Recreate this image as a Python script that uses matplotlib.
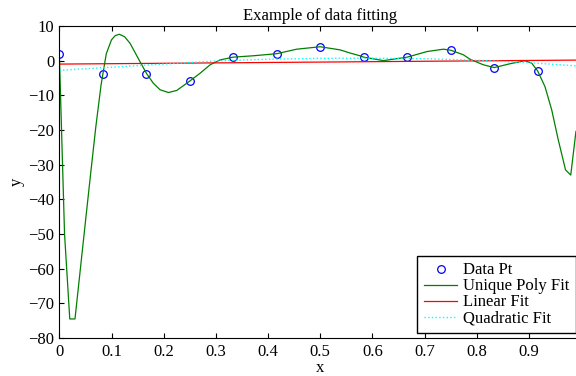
import matplotlib.pyplot as plt
import numpy as np

# Data points
x_pts = np.arange(12) / 12.0
y_pts = [2, -4, -4, -6, 1, 2, 4, 1, 1, 3, -2, -3]

x_poly = [0, 0.01, 0.02, 0.03, 0.04, 0.05, 0.06, 0.07, 0.08, 0.0833, 0.09, 0.10,
          0.107, 0.115, 0.125, 0.1355, 0.1546, 0.1675, 0.180, 0.193, 0.209, 0.225,
          0.249, 0.27, 0.289, 0.308, 0.333, 0.372, 0.4167, 0.455, 0.5, 0.538, 0.557,
          0.576, 0.5833, 0.621, 0.6667, 0.704, 0.736, 0.75, 0.774, 0.787, 0.806,
          0.8125, 0.8333, 0.8636, 0.892, 0.905, 0.9167, 0.9306, 0.9435, 0.956,
          0.97, 0.98, 0.99]
y_poly = [2, -50, -74.5, -74.5, -60.5, -46.5, -32.6, -19, -7, -4, 2.0, 6.0,
          7.2, 7.6, 6.9, 5.0, -0.3, -3.8, -6.5, -8.4, -9.2, -8.6,
          -6.0, -3.6, -1.2, 0.2, 1.0, 1.4, 2.0, 3.3, 4.0, 3.1, 2.2,
          1.4, 1.0, 0.0, 1.0, 2.6, 3.3, 3.0, 1.7, 0.4, -0.8,
          -1.2, -2.0, -0.9, -0.05, -0.7, -3.0, -7.5, -14.2, -22.8,
          -31.5, -33, -20.4]

# Linear fit end points
x_lin = [0, 0.99]
y_lin = [-1.0, 0.15]

# Quadratic fit
x_quad = [0, 0.1, 0.2, 0.3, 0.4, 0.5, 0.6, 0.7, 0.8, 0.9, 0.99]
y_quad = [-2.8, -1.9, -1.0, -0.1, 0.4, 0.65, 0.7, 0.55, 0.1, -0.6, -1.5]

plt.rcParams['font.family'] = 'Liberation Serif'
plt.rcParams['font.size'] = 12

fig = plt.figure(figsize=(5.76, 3.76), dpi=100)
ax = fig.add_axes([0.103, 0.101, 0.906, 0.830])

ax.plot(x_pts, y_pts, 'o', mfc='none', mec='blue', ms=5.5, mew=0.9, label='Data Pt')
ax.plot(x_poly, y_poly, color=(0, 0.5, 0), lw=0.9, label='Unique Poly Fit')
ax.plot(x_lin, y_lin, color='red', lw=0.9, label='Linear Fit')
ax.plot(x_quad, y_quad, color='cyan', lw=1, ls=':', label='Quadratic Fit')

ax.set_xlim(0, 1)
ax.set_ylim(-80, 10)
ax.set_xticks(np.arange(0, 1.0, 0.1))
ax.set_xticklabels(['0', '0.1', '0.2', '0.3', '0.4', '0.5', '0.6', '0.7', '0.8', '0.9'])
ax.set_yticks(np.arange(-80, 11, 10))
ax.tick_params(direction='in', top=True, right=True, length=3.5, labelsize=12)
ax.tick_params(axis='x', pad=4)

ax.set_title('Example of data fitting', fontsize=12, pad=4)
ax.set_xlabel('x', labelpad=0)
ax.set_ylabel('y', labelpad=3)

leg = ax.legend(loc='lower right', fancybox=False, edgecolor='black', framealpha=1,
                borderaxespad=0.3, handlelength=2.0, handletextpad=0.35,
                labelspacing=0.0, fontsize=12)
leg.get_frame().set_linewidth(1)

fig.savefig('out.png', dpi=100)
